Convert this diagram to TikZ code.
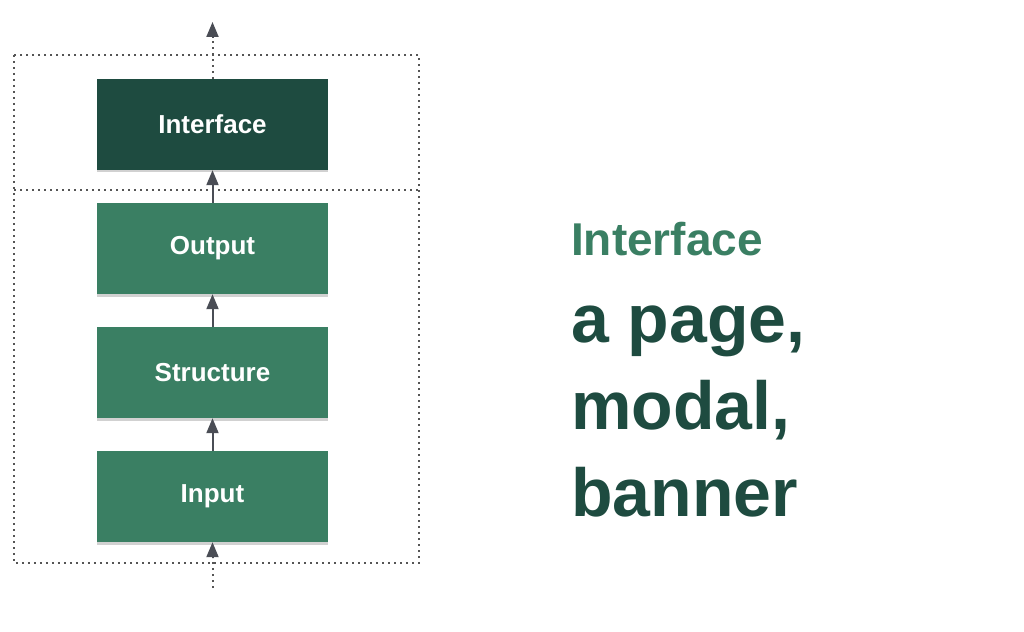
\documentclass[tikz,border=0pt]{standalone}
\usepackage{fontspec}
\setmainfont{Liberation Sans}
\usepackage{xcolor}
\usetikzlibrary{arrows.meta,shadows}

\definecolor{darkgreen}{HTML}{1E4B40}
\definecolor{midgreen}{HTML}{3A7F63}
\definecolor{arrowgray}{HTML}{4A4D55}
\definecolor{dotgray}{HTML}{555555}

\tikzset{
  layer/.style={rectangle, fill=midgreen, text=white, font=\fontsize{26}{30}\selectfont\bfseries,
    minimum width=231pt, minimum height=91pt, inner sep=0pt,
    drop shadow={shadow xshift=0pt, shadow yshift=-2.5pt, opacity=0.18, fill=black}},
  toplayer/.style={layer, fill=darkgreen},
  flow/.style={draw=arrowgray, line width=2pt, -{Triangle[width=12pt,length=15pt]}},
  frame/.style={draw=dotgray, line width=2pt, dash pattern=on 1.6pt off 4.4pt}
}

\begin{document}
\begin{tikzpicture}[x=1pt, y=-1pt]
  \useasboundingbox (0,0) rectangle (1024,631);

  % Dotted frame and divider
  \draw[frame] (14,55) rectangle (419,563);
  \draw[frame] (14,190) -- (419,190);

  % Layers
  \node[toplayer] (interface) at (212.5,124.5) {Interface};
  \node[layer] (output) at (212.5,248.5) {Output};
  \node[layer] (structure) at (212.5,372.5) {Structure};
  \node[layer] (input) at (212.5,496.5) {Input};

  % Free ends
  \coordinate (top) at (212.5,22);
  \coordinate (bottom) at (212.5,588);

  % Connections
  \draw[flow] (input) -- (structure);
  \draw[flow] (structure) -- (output);
  \draw[flow] (output) -- (interface);
  \draw[frame] (interface.north) -- (212.5,38);
  \draw[flow] (212.5,38) -- (top);
  \draw[frame] (bottom) -- (212.5,558);
  \draw[flow] (212.5,558) -- (input.south);

  % Caption
  \node[anchor=base west, inner sep=0pt, text=midgreen, font=\fontsize{46}{50}\selectfont\bfseries] (title) at (571,255) {Interface};
  \node[anchor=base west, inner sep=0pt, text=darkgreen, font=\fontsize{68}{87}\selectfont\bfseries, align=left] (examples) at (571,516) {a page,\\modal,\\banner};
\end{tikzpicture}
\end{document}
